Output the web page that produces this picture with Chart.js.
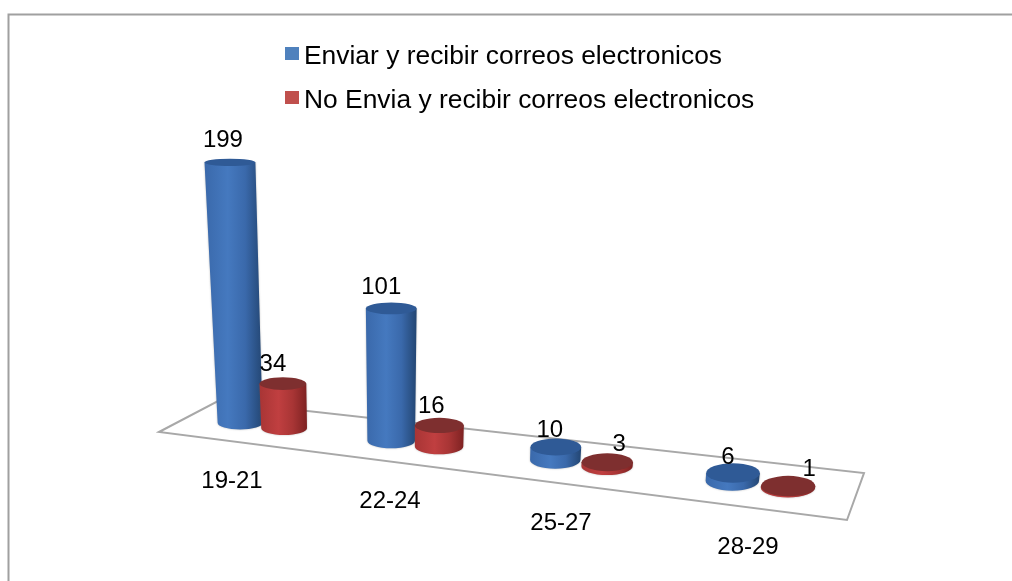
<!DOCTYPE html>
<html>
<head>
<meta charset="utf-8">
<style>html,body{margin:0;padding:0;background:#fff}canvas{display:block;filter:blur(0.35px)}</style>
<script src="https://cdn.jsdelivr.net/npm/chart.js@4"></script>
</head>
<body>
<canvas id="c" width="1012" height="581"></canvas>
<script>
const categories = ["19-21", "22-24", "25-27", "28-29"];
const sendMail = [199, 101, 10, 6];
const noSendMail = [34, 16, 3, 1];
const seriesNames = ["Enviar y recibir correos electronicos", "No Envia y recibir correos electronicos"];

const FONT = '24px "Liberation Sans", Arial, sans-serif';
const FLOOR = [[159,432],[218,401],[864,473],[847,520]];
const LEGEND_X = 285, LEGEND_Y = 43.8, LEGEND_PAD = 17.6, LEGEND_SIZE = 26.4;
const LABEL_OFFSETS = [
  [[-7,-22],[-10,-21.5],[-6,-17],[-5,-16]],
  [[-10,-19],[-8,-19],[12,-18],[21,-17]]
];
const TICK_POS_Y = [481, 501, 523, 547];
const TICK_DX = [-30, -25, -20, -12];
const SHADES = [
  {edge:'#3a69ab', mid:'#4579bf', dark:'#234673', cap:'#2f5a96'},
  {edge:'#a83535', mid:'#c03f40', dark:'#7e2222', cap:'#7e2f2f'}
];

// perspective of the floor: flat category position -> screen
function screenX(u){ return 262 + 146.5*u + 6.5*u*u; }
function baseY(x){ return 423 + 0.1175*(x-240); }
function project(el, xScale){
  const u = (el.x - xScale.left)/xScale.width*categories.length - 0.5;
  const xb = screenX(u), yb = baseY(xb), h = el.base - el.y;
  const rxb = el.width/2 * (1 + (xb-240)*0.00038);
  const rxt = rxb * (1 + h*0.0005);
  const ry0 = 6.5 + (xb-240)*0.0068;
  return {xb, yb, h, rxb, rxt, ryb:ry0, ryt:ry0*(1-h/600),
          xt: xb + h*(xb-391)*0.00026, yt: yb-h};
}
function cylinder(ctx, p, s){
  const left = Math.min(p.xb-p.rxb, p.xt-p.rxt), right = Math.max(p.xb+p.rxb, p.xt+p.rxt);
  const g = ctx.createLinearGradient(left,0,right,0);
  g.addColorStop(0, s.edge); g.addColorStop(0.4, s.mid); g.addColorStop(0.7, s.edge); g.addColorStop(1, s.dark);
  ctx.save();
  ctx.shadowColor = 'rgba(90,90,90,0.45)'; ctx.shadowBlur = 2;
  ctx.fillStyle = g;
  ctx.beginPath();
  ctx.moveTo(p.xb-p.rxb, p.yb);
  ctx.lineTo(p.xt-p.rxt, p.yt);
  ctx.lineTo(p.xt+p.rxt, p.yt);
  ctx.lineTo(p.xb+p.rxb, p.yb);
  ctx.ellipse(p.xb, p.yb, p.rxb, p.ryb, 0, 0, Math.PI);
  ctx.closePath();
  ctx.fill();
  ctx.shadowColor = 'transparent';
  ctx.fillStyle = s.cap;
  ctx.beginPath();
  ctx.ellipse(p.xt, p.yt, p.rxt, p.ryt, 0, 0, Math.PI*2);
  ctx.fill();
  ctx.restore();
}

const scene = {
  id: 'scene',
  afterLayout(chart){
    const l = chart.legend;
    l.left = LEGEND_X - LEGEND_PAD; l.top = LEGEND_Y - LEGEND_PAD;
    l.right = l.left + l.width; l.bottom = l.top + l.height;
  },
  beforeDraw(chart){
    const ctx = chart.ctx;
    ctx.save();
    ctx.strokeStyle = '#a0a0a0'; ctx.lineWidth = 2;
    ctx.beginPath(); ctx.moveTo(1012,14.5); ctx.lineTo(8.5,14.5); ctx.lineTo(8.5,581); ctx.stroke();
    ctx.restore();
  },
  beforeDatasetsDraw(chart){
    const ctx = chart.ctx, xs = chart.scales.x;
    ctx.save();
    ctx.strokeStyle = '#a8a8a8'; ctx.lineWidth = 2; ctx.lineJoin = 'miter';
    ctx.beginPath();
    FLOOR.forEach((q,i)=> i ? ctx.lineTo(q[0],q[1]) : ctx.moveTo(q[0],q[1]));
    ctx.closePath(); ctx.stroke();
    ctx.restore();
    categories.forEach((_,i)=>{
      [0,1].forEach(d=>{
        cylinder(ctx, project(chart.getDatasetMeta(d).data[i], xs), SHADES[d]);
      });
    });
    return false;
  },
  afterDraw(chart){
    const ctx = chart.ctx, xs = chart.scales.x;
    ctx.save();
    // legend swatches
    chart.legend.legendItems.forEach((it,i)=>{
      ctx.fillStyle = it.fillStyle;
      ctx.fillRect(LEGEND_X, 47 + i*44, 14, 13);
    });
    ctx.font = FONT; ctx.fillStyle = '#000'; ctx.textAlign = 'center'; ctx.textBaseline = 'middle';
    // value labels
    chart.data.datasets.forEach((ds,d)=>{
      ds.data.forEach((v,i)=>{
        const p = project(chart.getDatasetMeta(d).data[i], xs);
        const o = LABEL_OFFSETS[d][i];
        ctx.fillText(String(v), p.xt+o[0], p.yt+o[1]);
      });
    });
    // category labels
    categories.forEach((c,i)=>{
      ctx.fillText(c, screenX(i)+TICK_DX[i], TICK_POS_Y[i]);
    });
    ctx.restore();
  }
};

new Chart(document.getElementById('c'), {
  type: 'bar',
  data: {
    labels: categories,
    datasets: [
      {label: seriesNames[0], data: sendMail, backgroundColor: '#4F81BD'},
      {label: seriesNames[1], data: noSendMail, backgroundColor: '#C0504D'}
    ]
  },
  plugins: [scene],
  options: {
    responsive: false,
    animation: false,
    layout: {padding: {left: 187, right: 225, top: 161, bottom: 158}},
    datasets: {bar: {categoryPercentage: 0.6, barPercentage: 1}},
    scales: {
      x: {display: false},
      y: {display: false, min: 0, max: 200}
    },
    plugins: {
      tooltip: {enabled: false},
      legend: {
        position: 'chartArea',
        align: 'start',
        labels: {
          boxWidth: 5.8, boxHeight: 6, padding: LEGEND_PAD,
          color: '#000',
          font: {family: '"Liberation Sans", Arial, sans-serif', size: LEGEND_SIZE}
        }
      }
    }
  }
});
</script>
</body>
</html>
